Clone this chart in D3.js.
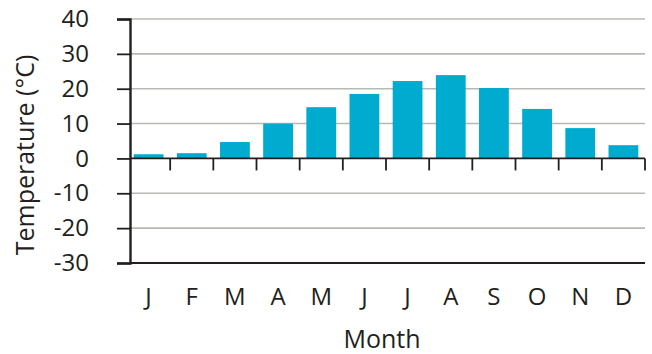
<!DOCTYPE html>
<html><head><meta charset="utf-8">
<script src="https://cdn.jsdelivr.net/npm/d3@7"></script>
<style>body{margin:0;background:#fff}svg{display:block}</style>
</head><body>
<svg id="c" width="652" height="354"></svg>
<script>
const months = ["J","F","M","A","M","J","J","A","S","O","N","D"];
const temps = [1.2, 1.5, 4.7, 10.0, 14.7, 18.5, 22.2, 23.9, 20.2, 14.2, 8.7, 3.8];
const yTicks = [40, 30, 20, 10, 0, -10, -20, -30];
const xTitle = "Month";
const yTitle = "Temperature (°C)";

const svg = d3.select("#c");
const font = "'Open Sans', sans-serif";
const axisColor = "#231f20";
const gridColor = "#b7bab2";
const barColor = "#00abd0";

const idx = months.map((m, i) => i);
const x = d3.scaleBand().domain(idx).range([127, 645]).paddingInner(0).paddingOuter(0);
const y = d3.scaleLinear().domain([-30, 40]).range([263, 19]);

// gridlines
svg.append("g").selectAll("line").data(yTicks.filter(t => t !== 0 && t !== -30)).join("line")
  .attr("x1", 130).attr("x2", 645)
  .attr("y1", d => y(d)).attr("y2", d => y(d))
  .attr("stroke", gridColor).attr("stroke-width", 1.6);

// bars
const bw = x.bandwidth() * 0.69;
svg.append("g").selectAll("rect").data(temps).join("rect")
  .attr("x", (d, i) => x(i) + x.bandwidth() / 2 - bw / 2)
  .attr("width", bw)
  .attr("y", d => y(Math.max(0, d)))
  .attr("height", d => Math.abs(y(d) - y(0)))
  .attr("fill", barColor);

// zero baseline with category ticks
svg.append("line").attr("x1", 130).attr("x2", 645).attr("y1", y(0)).attr("y2", y(0))
  .attr("stroke", axisColor).attr("stroke-width", 1.8);
svg.append("g").selectAll("line").data(idx.slice(1).concat([12])).join("line")
  .attr("x1", d => d < 12 ? x(d) : x(11) + x.bandwidth())
  .attr("x2", d => d < 12 ? x(d) : x(11) + x.bandwidth())
  .attr("y1", y(0)).attr("y2", y(0) + 12)
  .attr("stroke", axisColor).attr("stroke-width", 1.8);

// bottom line
svg.append("line").attr("x1", 130).attr("x2", 645).attr("y1", y(-30)).attr("y2", y(-30))
  .attr("stroke", axisColor).attr("stroke-width", 2);

// y axis
const yAxis = d3.axisLeft(y).tickValues(yTicks).tickSize(13).tickPadding(28).tickFormat(d3.format("d"));
const gy = svg.append("g").attr("transform", "translate(130,0)").call(yAxis);
gy.select(".domain").attr("stroke", axisColor).attr("stroke-width", 2.4);
gy.selectAll(".tick line").attr("stroke", axisColor).attr("stroke-width", 1.8);
gy.selectAll(".tick text").attr("fill", axisColor).attr("font-family", font).attr("font-size", 24)
  .text(d => d < 0 ? "-" + Math.abs(d) : d);

// x labels
svg.append("g").selectAll("text").data(months).join("text")
  .attr("x", (d, i) => x(i) + x.bandwidth() / 2)
  .attr("y", 305)
  .attr("text-anchor", "middle")
  .attr("font-family", font).attr("font-size", 24).attr("fill", axisColor)
  .text(d => d);

// titles
svg.append("text").attr("x", 382).attr("y", 348).attr("text-anchor", "middle")
  .attr("font-family", font).attr("font-size", 25).attr("fill", axisColor).text(xTitle);
svg.append("text").attr("transform", "translate(34,155) rotate(-90)").attr("text-anchor", "middle")
  .attr("font-family", font).attr("font-size", 25).attr("fill", axisColor).text(yTitle);
</script>
</body></html>
